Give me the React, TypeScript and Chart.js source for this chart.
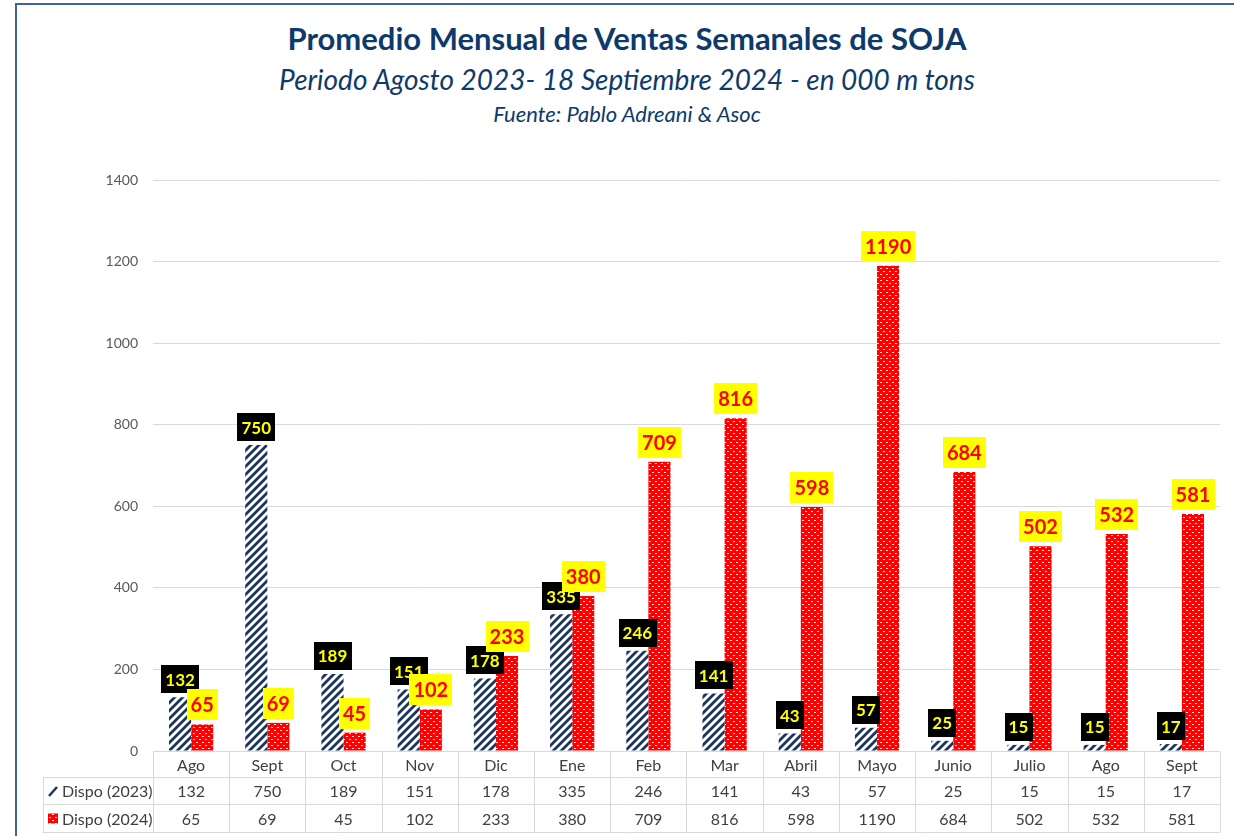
import React, { useEffect, useRef } from "react";
import { Chart, registerables } from "chart.js";

Chart.register(...registerables);

const categories = ["Ago", "Sept", "Oct", "Nov", "Dic", "Ene", "Feb", "Mar", "Abril", "Mayo", "Junio", "Julio", "Ago", "Sept"];
const dispo2023 = [132, 750, 189, 151, 178, 335, 246, 141, 43, 57, 25, 15, 15, 17];
const dispo2024 = [65, 69, 45, 102, 233, 380, 709, 816, 598, 1190, 684, 502, 532, 581];
const seriesNames = ["Dispo (2023)", "Dispo (2024)"];
const yTicks = [0, 200, 400, 600, 800, 1000, 1200, 1400];

const FONT = "Lato, 'Noto Sans', sans-serif";
const NAVY = "#1c355e";

function stripePattern(ctx: CanvasRenderingContext2D) {
  const c = document.createElement("canvas");
  c.width = 8;
  c.height = 8;
  const g = c.getContext("2d")!;
  g.fillStyle = "#ffffff";
  g.fillRect(0, 0, 8, 8);
  g.strokeStyle = NAVY;
  g.lineWidth = 2.8;
  g.beginPath();
  g.moveTo(-2, 10);
  g.lineTo(10, -2);
  g.moveTo(-2, 2);
  g.lineTo(2, -2);
  g.moveTo(6, 10);
  g.lineTo(10, 6);
  g.stroke();
  return ctx.createPattern(c, "repeat")!;
}

function dotPattern(ctx: CanvasRenderingContext2D) {
  const c = document.createElement("canvas");
  c.width = 6;
  c.height = 6;
  const g = c.getContext("2d")!;
  g.fillStyle = "#ff0000";
  g.fillRect(0, 0, 6, 6);
  g.fillStyle = "#ffe0e0";
  g.fillRect(1, 1, 2, 1);
  g.fillRect(4, 4, 2, 1);
  return ctx.createPattern(c, "repeat")!;
}

const labelStyles = [
  { bg: "#000000", color: "#ffff00", size: 17, padX: 4, h: 28 },
  { bg: "#ffff00", color: "#ff0000", size: 20, padX: 4, h: 31 },
];

const boxLabelPlugin = {
  id: "boxLabels",
  afterDatasetsDraw(chart: any) {
    const ctx = chart.ctx as CanvasRenderingContext2D;
    chart.data.datasets.forEach((ds: any, di: number) => {
      const meta = chart.getDatasetMeta(di);
      const st = labelStyles[di];
      meta.data.forEach((bar: any, i: number) => {
        const text = String(ds.data[i]);
        ctx.save();
        ctx.font = `bold ${st.size}px ${FONT}`;
        const w = ctx.measureText(text).width + st.padX * 2;
        const h = st.h;
        const x = bar.x - w / 2;
        const y = bar.y - 4 - h;
        ctx.fillStyle = st.bg;
        ctx.fillRect(Math.round(x), Math.round(y), Math.round(w), h);
        ctx.fillStyle = st.color;
        ctx.textAlign = "center";
        ctx.textBaseline = "middle";
        ctx.fillText(text, bar.x, y + h / 2 + 1);
        ctx.restore();
      });
    });
  },
};

const tablePlugin = {
  id: "dataTable",
  afterDraw(chart: any) {
    const ctx = chart.ctx as CanvasRenderingContext2D;
    const area = chart.chartArea;
    const xs = chart.scales.x;
    const colW = xs.getPixelForValue(1) - xs.getPixelForValue(0);
    const left = area.left;
    const right = area.right;
    const legendLeft = 43;
    const y0 = Math.round(area.bottom) + 0.5;
    const y1 = y0 + 26;
    const y2 = y1 + 27;
    const y3 = y2 + 28;
    ctx.save();
    ctx.strokeStyle = "#d9d9d9";
    ctx.lineWidth = 1;
    ctx.beginPath();
    ctx.moveTo(left, y0);
    ctx.lineTo(right, y0);
    [y1, y2, y3].forEach((y) => {
      ctx.moveTo(legendLeft, y);
      ctx.lineTo(right, y);
    });
    for (let i = 0; i <= categories.length; i++) {
      const x = Math.round(left + i * colW) + 0.5;
      ctx.moveTo(x, y0);
      ctx.lineTo(x, y3);
    }
    ctx.moveTo(legendLeft + 0.5, y1);
    ctx.lineTo(legendLeft + 0.5, y3);
    ctx.stroke();

    ctx.fillStyle = "#404040";
    ctx.font = `16px ${FONT}`;
    ctx.textAlign = "center";
    ctx.textBaseline = "middle";
    categories.forEach((c, i) => {
      const cx = xs.getPixelForValue(i);
      ctx.fillText(c, cx, (y0 + y1) / 2 + 1);
      ctx.fillText(String(dispo2023[i]), cx, (y1 + y2) / 2 + 1);
      ctx.fillText(String(dispo2024[i]), cx, (y2 + y3) / 2 + 1);
    });
    const pats = chart.data.datasets.map((d: any) => d.backgroundColor);
    [[y1, y2], [y2, y3]].forEach(([a, b], k) => {
      const cy = (a + b) / 2;
      ctx.fillStyle = pats[k];
      if (k === 0) {
        ctx.save();
        ctx.strokeStyle = NAVY;
        ctx.lineWidth = 2.5;
        ctx.beginPath();
        ctx.moveTo(49, cy + 5);
        ctx.lineTo(57, cy - 4);
        ctx.stroke();
        ctx.restore();
      } else {
        ctx.fillRect(48, cy - 5, 10, 10);
      }
      ctx.fillStyle = "#404040";
      ctx.textAlign = "left";
      ctx.fillText(seriesNames[k], 62, cy + 1);
    });
    ctx.restore();
  },
};

export default function App() {
  const ref = useRef<HTMLCanvasElement>(null);
  useEffect(() => {
    const canvas = ref.current!;
    const ctx = canvas.getContext("2d")!;
    const chart = new Chart(canvas, {
      type: "bar",
      data: {
        labels: categories,
        datasets: [
          { label: seriesNames[0], data: dispo2023, backgroundColor: stripePattern(ctx), borderWidth: 0, categoryPercentage: 0.58, barPercentage: 1 },
          { label: seriesNames[1], data: dispo2024, backgroundColor: dotPattern(ctx), borderWidth: 0, categoryPercentage: 0.58, barPercentage: 1 },
        ],
      },
      options: {
        responsive: false,
        animation: false,
        devicePixelRatio: 1,
        layout: { padding: { top: 180, right: 14, left: 0, bottom: 0 } },
        plugins: { legend: { display: false }, tooltip: { enabled: false }, title: { display: false } },
        scales: {
          x: {
            grid: { display: false },
            border: { display: false },
            ticks: { display: false },
            afterFit: (s: any) => {
              s.height = 85;
            },
          },
          y: {
            min: 0,
            max: 1400,
            afterBuildTicks: (s: any) => {
              s.ticks = yTicks.map((v) => ({ value: v }));
            },
            ticks: {
              color: "#595959",
              font: { family: FONT, size: 14 },
              padding: 15,
              callback: (v: any) => String(v),
            },
            grid: { color: "#d9d9d9", drawTicks: false, lineWidth: 1 },
            border: { display: false },
            afterFit: (s: any) => {
              s.width = 153;
            },
          },
        },
      },
      plugins: [boxLabelPlugin, tablePlugin],
    } as any);
    return () => chart.destroy();
  }, []);

  const titleColor = "#0e3a6b";
  return (
    <div style={{ position: "absolute", left: 0, top: 0, width: 1234, height: 836, overflow: "hidden", background: "#fff" }}>
      <div style={{ position: "absolute", left: 15, top: 3, width: 1300, height: 900, borderLeft: "2px solid #41619a", borderTop: "2px solid #41619a" }} />
      <div style={{ position: "absolute", left: 627, top: 20, transform: "translateX(-50%)", whiteSpace: "nowrap", fontFamily: FONT, fontWeight: 700, fontSize: 31, color: titleColor, lineHeight: "36px" }}>
        Promedio Mensual de Ventas Semanales de SOJA
      </div>
      <div style={{ position: "absolute", left: 627, top: 61, transform: "translateX(-50%)", whiteSpace: "nowrap", fontFamily: FONT, fontStyle: "italic", fontSize: 28, color: titleColor, lineHeight: "36px" }}>
        Periodo Agosto 2023- 18 Septiembre 2024 - en 000 m tons
      </div>
      <div style={{ position: "absolute", left: 627, top: 100, transform: "translateX(-50%)", whiteSpace: "nowrap", fontFamily: FONT, fontStyle: "italic", fontSize: 22, color: titleColor, lineHeight: "28px" }}>
        Fuente: Pablo Adreani &amp; Asoc
      </div>
      <canvas ref={ref} width={1234} height={836} style={{ position: "absolute", left: 0, top: 0, width: 1234, height: 836 }} />
    </div>
  );
}
